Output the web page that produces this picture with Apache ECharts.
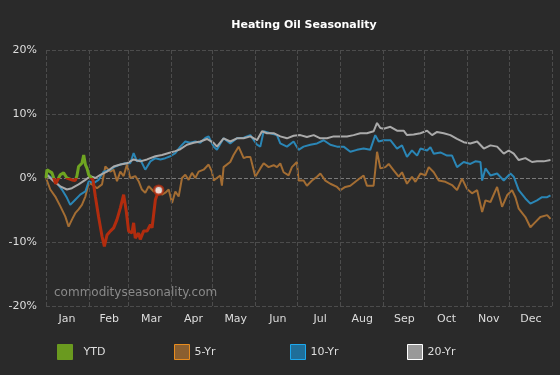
<!DOCTYPE html>
<html>
<head>
<meta charset="utf-8">
<script src="https://cdn.jsdelivr.net/npm/echarts@6/dist/echarts.min.js"></script>
<style>
html,body{margin:0;padding:0;background:#2a2a2a;}
#c{width:560px;height:375px;}
</style>
</head>
<body>
<div id="c"></div>
<script>
const months = ['Jan','Feb','Mar','Apr','May','Jun','Jul','Aug','Sep','Oct','Nov','Dec'];
const monthStarts = [0,31,59,90,120,151,181,212,243,273,304,334,365];
const yTicks = [-20,-10,0,10,20];

const ytdDays = [0,0.7,4.3,7,9.1,10.3,12.7,13.9,15.1,16.3,18.7,21.1,22.3,23.5,25.9,27.2,28.4,29.6,30.8,32,33.9,35.6,37.9,40.4,42.1,44,46.4,48.8,51.2,53.6,56,57.9,59.6,62,63.2,64.4,66.8,68,70.4,72.9,75.3,76.5,78.9,81.3];
const ytdVals = [0,1.3,0.8,-0.9,0,0.5,0.8,1.0,0,-0.2,-0.3,-0.4,0.3,1.8,2.3,3.6,2.1,1.5,0.5,0.3,-0.3,-2.9,-6.0,-9.1,-10.7,-8.9,-8.3,-7.8,-6.5,-4.7,-2.6,-5.2,-8.3,-8.6,-7.0,-9.4,-8.6,-9.6,-8.3,-8.3,-7.3,-7.8,-3.4,-1.9];

const fiveDays = [0,0.7,3.1,6.7,10.3,13.9,16.3,18.7,21.1,23.5,25.9,28.4,30.8,33.2,36.8,40.4,42.8,46.4,48.8,51.2,53.6,56,58.4,60.8,64.4,66.8,69.2,71.6,74.1,77.7,81.3,83.7,86.1,88.5,90.9,93.3,95.7,98.1,100.5,102.9,105.3,107.7,110.1,113.7,117.3,119.7,120.9,125.7,126.9,128.1,132.9,135.3,138.9,142.6,145,147.4,151,154.6,157,160.6,164.2,166.6,169,171.4,175,177.4,181,182.2,185.8,188.2,191.9,195.5,197.9,201.5,205.1,209.9,212.3,215.9,219.5,224.3,229.1,231.5,236.3,237.5,238.8,241.2,244.8,247.2,250.8,254.4,256.8,260.4,264,266.5,270.1,273.7,276.1,279.7,283.3,288.1,292.9,296.5,300.1,303.7,307.3,311,314.6,317,320.6,325.4,329,332.6,336.2,338.6,341,345.8,349.4,353,356.6,361.5,363.9];
const fiveVals = [0,-0.3,-1.8,-2.9,-4.4,-6.0,-7.6,-6.5,-5.5,-4.9,-4.2,-2.9,-0.8,-1.0,-1.6,-1.0,1.8,1.0,1.3,-0.5,1.0,0.3,2.1,0,0.3,-0.5,-1.8,-2.3,-1.3,-2.1,-1.8,-2.6,-2.3,-1.8,-3.9,-2.1,-2.9,0,0.5,-0.3,0.8,0,1.0,1.3,2.1,1.0,-0.4,0.4,-1.2,1.7,2.5,3.6,4.9,3.1,3.3,3.3,0.2,1.5,2.3,1.7,2.0,1.7,2.3,0.9,0.4,1.7,2.5,-0.4,-0.4,-1.2,-0.4,0.2,0.7,-0.4,-0.9,-1.4,-1.9,-1.4,-1.2,-0.4,0.4,-1.2,-1.2,1.2,4.1,1.5,1.7,2.2,1.2,0.2,0.9,-0.9,0.2,-0.6,0.7,0.4,1.7,0.9,-0.4,-0.6,-1.1,-1.9,-0.1,-1.7,-2.4,-1.9,-5.3,-3.5,-3.75,-1.4,-4.5,-2.7,-1.9,-3.0,-4.8,-6.1,-7.7,-6.9,-6.1,-5.8,-6.4];

const tenDays = [0,0.7,4.3,7.9,11.5,15.1,17.5,21.1,24.7,28.4,30.8,34.4,37.9,41.6,46.4,50,53.6,57.2,60.8,63.2,65.6,68,71.6,75.3,78.9,82.5,86.1,89.7,93.3,96.9,100.5,104.1,107.7,111.3,114.9,117.3,120.9,123.3,128.1,132.9,137.7,142.6,147.4,152.2,154.6,157,161.8,166.6,169,173.8,178.6,182.2,185.8,190.7,195.5,200.3,205.1,209.9,214.7,219.5,224.3,229.1,233.9,237.5,240,243.6,248.4,253.2,256.8,260.4,264,267.7,270.1,274.9,277.3,279.7,284.5,289.3,292.9,296.5,301.3,306.1,309.7,313.4,314.6,317,320.6,325.4,330.2,335,337.4,341,345.8,349.4,354.2,357.8,361.5,363.9];
const tenVals = [0,0.5,0,-0.8,-1.8,-3.1,-4.2,-3.4,-2.6,-2.1,-0.5,-0.8,-0.3,1.0,1.3,1.8,2.1,2.3,2.3,3.9,2.6,2.9,1.3,2.6,3.1,2.9,3.1,3.4,3.9,4.9,5.7,5.5,5.7,5.5,6.25,6.5,4.9,4.4,6.2,5.4,6.2,6.3,6.7,5.2,4.9,7.3,7.0,6.7,5.4,4.9,5.7,4.4,4.9,5.2,5.4,5.9,5.2,4.9,4.9,4.1,4.4,4.6,4.4,6.7,5.7,5.9,5.9,4.6,5.1,3.3,4.3,3.5,4.6,4.3,4.8,3.8,4.0,3.5,3.5,1.7,2.5,2.2,2.6,2.5,-0.4,1.5,0.4,0.7,-0.4,0.7,0.2,-1.9,-3.2,-4.0,-3.5,-3.0,-3.0,-2.7];

const twentyDays = [0,0.7,5.5,10.3,15.1,18.7,23.5,28.4,32,35.6,39.2,44,48.8,53.6,58.4,63.2,68,72.9,78.9,83.7,88.5,93.3,96.9,101.7,106.5,111.3,116.1,120.9,123.3,128.1,132.9,137.7,142.6,147.4,152.2,155.8,159.4,164.2,169,173.8,178.6,183.4,188.2,193.1,197.9,202.7,207.5,212.3,217.1,221.9,226.7,231.5,236.3,238.8,241.2,243.6,248.4,253.2,258,260.4,265.2,270.1,274.9,278.5,282.1,286.9,291.7,296.5,301.3,306.1,311,315.8,320.6,325.4,330.2,333.8,337.4,341,345.8,350.6,354.2,359,363.9];
const twentyVals = [0,0.5,-0.5,-1.3,-1.8,-1.6,-1.0,-0.3,0.3,0,0.5,1.0,1.8,2.1,2.3,2.9,2.6,2.9,3.4,3.6,3.9,4.2,4.5,5.2,5.5,5.7,6.1,5.5,4.9,6.2,5.7,6.2,6.2,6.5,5.9,7.3,7.0,7.0,6.5,6.2,6.6,6.7,6.4,6.7,6.2,6.2,6.5,6.5,6.5,6.7,7.0,7.0,7.3,8.6,7.8,7.7,8.0,7.4,7.4,6.7,6.8,7.0,7.4,6.7,7.2,7.0,6.7,6.1,5.6,5.4,5.7,4.6,5.1,4.9,3.8,4.3,3.8,2.8,3.1,2.5,2.6,2.6,2.8];

const zip = (a, b) => a.map((d, i) => [d, b[i]]);
const FONT = 'DejaVu Sans, Verdana, sans-serif';
const chart = echarts.init(document.getElementById('c'), null, {renderer: 'canvas'});

function legendAt(left, name, fill, border, pad) {
  return {
    left: left, top: 339, icon: 'rect', itemWidth: 15, itemHeight: 15,
    selectedMode: false,
    textStyle: {color: '#dddddd', fontSize: 11, fontFamily: FONT, padding: [0, 0, 0, pad]},
    data: [{name: name, itemStyle: {color: fill, borderColor: border, borderWidth: 1}}]
  };
}

chart.setOption({
  backgroundColor: '#2a2a2a',
  animation: false,
  title: {
    text: 'Heating Oil Seasonality', left: 299, top: 15, textAlign: 'center',
    textStyle: {color: '#ffffff', fontSize: 11, fontWeight: 'bold', fontFamily: FONT}
  },
  grid: {left: 46, right: 8, top: 50, bottom: 69},
  legend: [
    legendAt(52, 'YTD', '#6a9a1f', '#6a9a1f', 6),
    legendAt(169, '5-Yr', '#8a5f30', '#e88c1e', 0),
    legendAt(285, '10-Yr', '#1f6e99', '#1ca8ee', 0),
    legendAt(402, '20-Yr', '#999999', '#ffffff', 0)
  ],
  visualMap: {
    type: 'piecewise', show: false, seriesIndex: 3, dimension: 1,
    pieces: [{gt: 0, lte: 30, color: '#6fa521'}, {gte: -30, lte: 0, color: '#b22c0e'}],
    outOfRange: {color: '#b22c0e'}
  },
  xAxis: [
    {type: 'value', min: 0, max: 365, show: true,
     axisLine: {show: false}, axisTick: {show: false}, axisLabel: {show: false}, splitLine: {show: false}},
    {type: 'category', data: months, boundaryGap: true, position: 'bottom',
     axisLine: {show: false}, axisTick: {show: false}, splitLine: {show: false},
     axisLabel: {color: '#dddddd', fontSize: 11, fontFamily: FONT, margin: 8}}
  ],
  yAxis: {
    type: 'value', min: yTicks[0], max: yTicks[yTicks.length - 1], interval: 10,
    axisLine: {show: false}, axisTick: {show: false},
    axisLabel: {color: '#dddddd', fontSize: 11, fontFamily: FONT, margin: 9, formatter: '{value}%'},
    splitLine: {lineStyle: {type: 'dashed', color: ['#4c4c4c', '#4c4c4c', '#7a7a7a', '#4c4c4c', '#4c4c4c'], width: 1}}
  },
  graphic: [{
    type: 'text', left: 54, top: 287, silent: true,
    style: {text: 'commodityseasonality.com', fill: '#8a8a8a', font: '12px ' + FONT}
  }],
  series: [
    {name: '5-Yr', type: 'line', data: zip(fiveDays, fiveVals), showSymbol: false, symbol: 'none',
     lineStyle: {color: '#a36d33', width: 2}, itemStyle: {color: '#8a5f30'}, z: 2,
     markLine: {silent: true, symbol: 'none', label: {show: false},
       lineStyle: {type: 'dashed', color: '#4c4c4c', width: 1},
       data: monthStarts.map(d => ({xAxis: d}))}},
    {name: '10-Yr', type: 'line', data: zip(tenDays, tenVals), showSymbol: false, symbol: 'none',
     lineStyle: {color: '#2a86b6', width: 2}, itemStyle: {color: '#1f6e99'}, z: 3},
    {name: '20-Yr', type: 'line', data: zip(twentyDays, twentyVals), showSymbol: false, symbol: 'none',
     lineStyle: {color: '#aaaaaa', width: 2}, itemStyle: {color: '#999999'}, z: 4},
    {name: 'YTD', type: 'line', data: zip(ytdDays, ytdVals), showSymbol: false, symbol: 'none',
     lineStyle: {width: 3}, itemStyle: {color: '#6a9a1f'}, z: 5},
    {name: 'YTD end', type: 'scatter', z: 6,
     data: [[ytdDays[ytdDays.length - 1], ytdVals[ytdVals.length - 1]]],
     symbol: 'circle', symbolSize: 9,
     itemStyle: {color: '#ffffff', borderColor: '#b22c0e', borderWidth: 2.5}}
  ]
});
</script>
</body>
</html>
